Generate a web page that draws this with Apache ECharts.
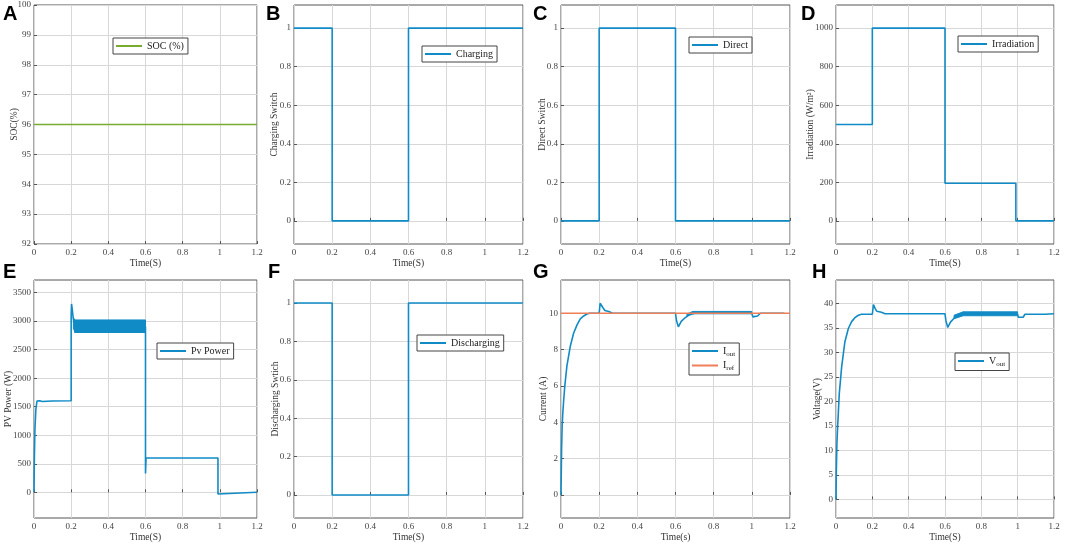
<!DOCTYPE html>
<html><head><meta charset="utf-8">
<script src="https://cdn.jsdelivr.net/npm/echarts@6/dist/echarts.min.js"></script>
<style>html,body{margin:0;padding:0;background:#fff}#c{width:1065px;height:546px}</style>
</head><body><div id="c"></div>
<script>
// ---- data ----
const xTicks = [0, 0.2, 0.4, 0.6, 0.8, 1, 1.2];

const socT = [0, 1.2];
const soc = [96, 96];
const socTicks = [92, 93, 94, 95, 96, 97, 98, 99, 100];

const switchT = [0, 0.2, 0.2, 0.6, 0.6, 1.2];
const charging = [1, 1, 0, 0, 1, 1];
const direct = [0, 0, 1, 1, 0, 0];
const discharging = [1, 1, 0, 0, 1, 1];
const switchTicks = [0, 0.2, 0.4, 0.6, 0.8, 1];

const irrT = [0, 0.2, 0.2, 0.6, 0.6, 0.99, 0.99, 1.2];
const irradiation = [500, 500, 1000, 1000, 195, 195, 0, 0];
const irrTicks = [0, 200, 400, 600, 800, 1000];

const pvT = [0, 0.002, 0.005, 0.01, 0.016, 0.03, 0.045, 0.055, 0.07, 0.1, 0.2, 0.2, 0.202, 0.206, 0.21, 0.215, 0.22, 0.6, 0.6, 0.603, 0.99, 0.99, 0.995, 1.2];
const pvPower = [0, 600, 1100, 1450, 1600, 1605, 1590, 1580, 1595, 1600, 1605, 3100, 3300, 3200, 3080, 2980, 2900, 2900, 330, 600, 600, -30, 0, 0];
const pvBandT = [0.212, 0.22, 0.6];
const pvBandLow = [2880, 2800, 2800];
const pvBandHigh = [3060, 3020, 3020];
const pvTicks = [0, 500, 1000, 1500, 2000, 2500, 3000, 3500];

const ioutT = [0, 0.003, 0.006, 0.01, 0.014, 0.02, 0.031, 0.049, 0.066, 0.084, 0.101, 0.119, 0.136, 0.15, 0.2, 0.205, 0.21, 0.22, 0.23, 0.24, 0.25, 0.26, 0.27, 0.6, 0.605, 0.615, 0.63, 0.65, 0.67, 0.7, 1.0, 1.005, 1.03, 1.045, 1.17];
const iout = [0, 2.5, 3.8, 4.6, 5.2, 6.0, 7.1, 8.2, 8.9, 9.36, 9.69, 9.85, 9.96, 10, 10, 10.55, 10.45, 10.3, 10.15, 10.2, 10.1, 10.05, 10, 10, 9.6, 9.25, 9.55, 9.75, 9.9, 10, 10, 9.8, 9.85, 10, 10];
const ioutBandT = [0.66, 0.69, 1.0];
const ioutBandLow = [9.85, 9.97, 9.97];
const ioutBandHigh = [9.95, 10.1, 10.1];
const irefT = [0, 1.2];
const iref = [10, 10];
const iTicks = [0, 2, 4, 6, 8, 10];

const voutT = [0, 0.002, 0.005, 0.009, 0.018, 0.031, 0.049, 0.068, 0.086, 0.104, 0.123, 0.14, 0.2, 0.206, 0.215, 0.225, 0.235, 0.25, 0.27, 0.6, 0.605, 0.615, 0.63, 0.65, 0.67, 0.7, 1.0, 1.003, 1.03, 1.04, 1.15, 1.2];
const vout = [0, 6, 11.4, 14.8, 21.6, 27, 32.2, 34.9, 36.3, 37.1, 37.6, 37.8, 37.8, 39.8, 39.0, 38.4, 38.6, 38.2, 37.9, 37.9, 36.5, 35.1, 36.2, 37.0, 37.5, 37.8, 37.8, 37.2, 37.2, 37.8, 37.8, 37.9];
const voutBandT = [0.65, 0.7, 1.0];
const voutBandLow = [36.9, 37.5, 37.5];
const voutBandHigh = [37.6, 38.3, 38.3];
const vTicks = [0, 5, 10, 15, 20, 25, 30, 35, 40];

// ---- styling ----
const SERIF = 'Liberation Serif';
const BLUE = '#118bc5';
const GREEN = '#77ac30';
const ORANGE = '#ef7f57';

const panels = [
  {letter:'A', lx:3, ly:4, grid:{left:34, top:5, width:223, height:239}, yMin:92, yMax:100, yTicks:socTicks, yName:'SOC(%)', yGap:15, xName:'Time(S)',
   legend:{left:113, top:38, names:['SOC (%)']}},
  {letter:'B', lx:266, ly:4, grid:{left:294, top:5, width:229, height:239}, yMin:-0.12, yMax:1.12, yTicks:switchTicks, yName:'Charging Switch', yGap:15, xName:'Time(S)',
   legend:{left:422, top:46, names:['Charging']}},
  {letter:'C', lx:533, ly:4, grid:{left:561, top:5, width:229, height:239}, yMin:-0.12, yMax:1.12, yTicks:switchTicks, yName:'Direct Switch', yGap:14, xName:'Time(S)',
   legend:{left:689, top:37, names:['Direct']}},
  {letter:'D', lx:801, ly:4, grid:{left:836, top:5, width:218, height:239}, yMin:-120, yMax:1120, yTicks:irrTicks, yName:'Irradiation (W/m²)', yGap:21, xName:'Time(S)',
   legend:{left:958, top:36, names:['Irradiation']}},
  {letter:'E', lx:3, ly:262, grid:{left:34, top:280, width:223, height:238}, yMin:-450, yMax:3720, yTicks:pvTicks, yName:'PV Power (W)', yGap:21, xName:'Time(S)',
   legend:{left:157, top:343, names:['Pv Power']}},
  {letter:'F', lx:268, ly:262, grid:{left:294, top:280, width:229, height:238}, yMin:-0.12, yMax:1.12, yTicks:switchTicks, yName:'Discharging Swtich', yGap:14, xName:'Time(S)',
   legend:{left:417, top:335, names:['Discharging']}},
  {letter:'G', lx:533, ly:262, grid:{left:561, top:280, width:229, height:238}, yMin:-1.27, yMax:11.83, yTicks:iTicks, yName:'Current (A)', yGap:13, xName:'Time(s)',
   legend:{left:689, top:343, names:['Iout', 'Iref']}},
  {letter:'H', lx:812, ly:262, grid:{left:836, top:280, width:218, height:238}, yMin:-3.8, yMax:44.8, yTicks:vTicks, yName:'Voltage(V)', yGap:14, xName:'Time(S)',
   legend:{left:955, top:353, names:['Vout']}}
];

const pairs = (t, v) => t.map((x, i) => [x, v[i]]);

const grids = [], xAxes = [], yAxes = [], legends = [], graphics = [];
panels.forEach((p, k) => {
  grids.push(Object.assign({show:true, borderColor:'#555', borderWidth:1, backgroundColor:'#fff', containLabel:false, outerBoundsMode:'none'}, p.grid));
  xAxes.push({
    type:'value', gridIndex:k, min:0, max:1.2,
    name:p.xName, nameLocation:'middle', nameGap:14, nameMoveOverlap:false,
    nameTextStyle:{fontFamily:SERIF, fontSize:9.5, color:'#333'},
    axisLine:{show:false},
    axisTick:{show:true, inside:true, length:3, customValues:xTicks, lineStyle:{color:'#555'}},
    axisLabel:{customValues:xTicks, fontFamily:SERIF, fontSize:9, color:'#444', margin:4, formatter:v => String(v)},
    splitLine:{show:true, lineStyle:{color:'#d8d8d8', width:1}}
  });
  yAxes.push({
    type:'value', gridIndex:k, min:p.yMin, max:p.yMax,
    name:p.yName, nameLocation:'middle', nameGap:p.yGap, nameMoveOverlap:false,
    nameTextStyle:{fontFamily:SERIF, fontSize:9.5, color:'#333'},
    axisLine:{show:false},
    axisTick:{show:true, inside:true, length:3, customValues:p.yTicks, lineStyle:{color:'#555'}},
    axisLabel:{customValues:p.yTicks, fontFamily:SERIF, fontSize:9, color:'#444', margin:3, formatter:v => String(v)},
    splitLine:{show:true, lineStyle:{color:'#d8d8d8', width:1}}
  });
  legends.push({
    data:p.legend.names, left:p.legend.left, top:p.legend.top,
    orient:'vertical', itemGap:3, itemWidth:26, itemHeight:2, icon:'rect',
    padding:[3,4,3,3], borderColor:'#444', borderWidth:1, backgroundColor:'#fff',
    selectedMode:false,
    textStyle:{fontFamily:SERIF, fontSize:10, color:'#222',
      rich:{m:{fontFamily:SERIF, fontSize:10, color:'#222'}, s:{fontFamily:SERIF, fontSize:7, color:'#222', verticalAlign:'bottom', padding:[6,0,0,0]}}},
    formatter:name => {
      if (name === 'Iout') return '{m|I}{s|out}';
      if (name === 'Iref') return '{m|I}{s|ref}';
      if (name === 'Vout') return '{m|V}{s|out}';
      return name;
    }
  });
  graphics.push({type:'text', left:p.lx, top:p.ly, style:{text:p.letter, font:'bold 20px "Liberation Sans", Arial', fill:'#000'}});
});

const lineSeries = (name, k, t, v, color) => ({
  type:'line', name, xAxisIndex:k, yAxisIndex:k, data:pairs(t, v),
  symbol:'none', showSymbol:false, animation:false, clip:true,
  lineStyle:{color, width:1.6}, itemStyle:{color}
});

const bandSeries = (name, k, t, lo, hi, color) => ({
  type:'custom', name, xAxisIndex:k, yAxisIndex:k, animation:false, clip:true,
  data:t.map((x, i) => [x, lo[i], hi[i]]),
  renderItem:(params, api) => {
    const i = params.dataIndex;
    if (i >= t.length - 1) return null;
    const pts = [api.coord([t[i], lo[i]]), api.coord([t[i+1], lo[i+1]]), api.coord([t[i+1], hi[i+1]]), api.coord([t[i], hi[i]])];
    return {type:'polygon', shape:{points:pts}, style:{fill:color, stroke:color, lineWidth:1}};
  }
});

const series = [
  lineSeries('SOC (%)', 0, socT, soc, GREEN),
  lineSeries('Charging', 1, switchT, charging, BLUE),
  lineSeries('Direct', 2, switchT, direct, BLUE),
  lineSeries('Irradiation', 3, irrT, irradiation, BLUE),
  lineSeries('Pv Power', 4, pvT, pvPower, BLUE),
  bandSeries('pvBand', 4, pvBandT, pvBandLow, pvBandHigh, BLUE),
  lineSeries('Discharging', 5, switchT, discharging, BLUE),
  lineSeries('Iout', 6, ioutT, iout, BLUE),
  bandSeries('ioutBand', 6, ioutBandT, ioutBandLow, ioutBandHigh, BLUE),
  lineSeries('Iref', 6, irefT, iref, ORANGE),
  lineSeries('Vout', 7, voutT, vout, BLUE),
  bandSeries('voutBand', 7, voutBandT, voutBandLow, voutBandHigh, BLUE)
];

const chart = echarts.init(document.getElementById('c'), null, {renderer:'canvas'});
chart.setOption({
  backgroundColor:'#fff',
  animation:false,
  grid:grids, xAxis:xAxes, yAxis:yAxes, legend:legends, series, graphic:graphics
});
</script></body></html>
